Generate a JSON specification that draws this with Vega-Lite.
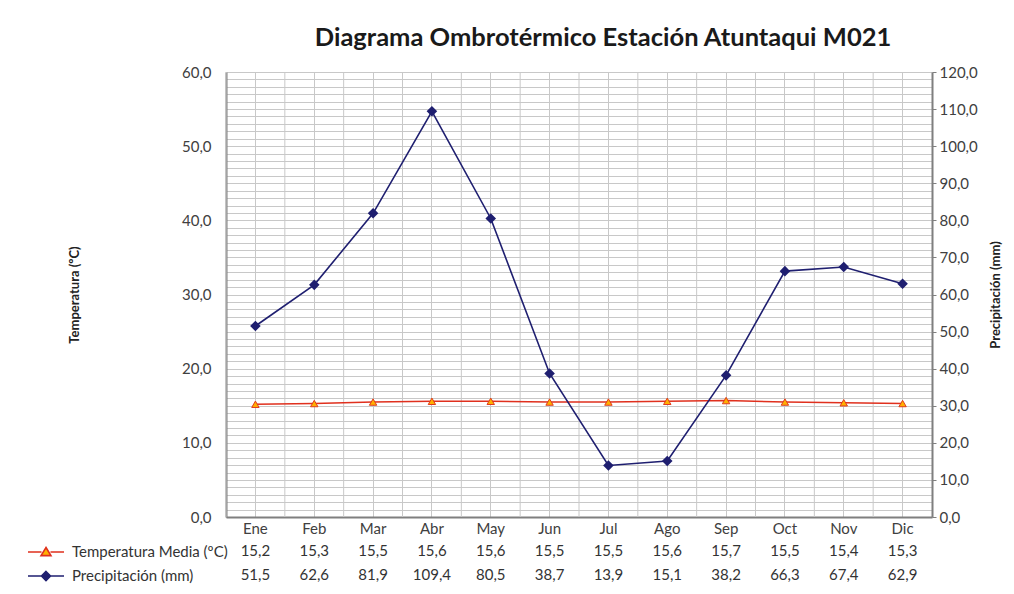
{
  "$schema": "https://vega.github.io/schema/vega-lite/v6.json",
  "width": 706,
  "height": 445,
  "autosize": {"type": "none"},
  "padding": {"left": 226, "top": 72, "right": 82, "bottom": 77},
  "background": "white",
  "config": {
    "locale": {"number": {"decimal": ",", "thousands": ".", "grouping": [3], "currency": ["", " €"]}},
    "font": "Lato",
    "view": {"stroke": null},
    "axis": {"labelFont": "Lato", "titleFont": "Lato", "labelColor": "#404040", "titleColor": "#222222", "labelFontSize": 15}
  },
  "title": {
    "text": "Diagrama Ombrotérmico Estación Atuntaqui M021",
    "fontSize": 25.5,
    "fontWeight": "bold",
    "color": "#1a1a1a",
    "anchor": "middle",
    "dx": 24,
    "offset": 14
  },
  "data": {
    "values": [
      {"mes": "Ene", "temp": 15.2, "prec": 51.5},
      {"mes": "Feb", "temp": 15.3, "prec": 62.6},
      {"mes": "Mar", "temp": 15.5, "prec": 81.9},
      {"mes": "Abr", "temp": 15.6, "prec": 109.4},
      {"mes": "May", "temp": 15.6, "prec": 80.5},
      {"mes": "Jun", "temp": 15.5, "prec": 38.7},
      {"mes": "Jul", "temp": 15.5, "prec": 13.9},
      {"mes": "Ago", "temp": 15.6, "prec": 15.1},
      {"mes": "Sep", "temp": 15.7, "prec": 38.2},
      {"mes": "Oct", "temp": 15.5, "prec": 66.3},
      {"mes": "Nov", "temp": 15.4, "prec": 67.4},
      {"mes": "Dic", "temp": 15.3, "prec": 62.9}
    ]
  },
  "encoding": {
    "x": {
      "field": "mes",
      "type": "ordinal",
      "sort": null,
      "scale": {"type": "band", "paddingInner": 0, "paddingOuter": 0},
      "axis": {
        "title": null,
        "labelAngle": 0,
        "bandPosition": 0.5,
        "grid": true,
        "gridColor": "#C8C8C8",
        "gridWidth": 1,
        "ticks": false,
        "domainColor": "#7F7F7F",
        "domainWidth": 2,
        "labelPadding": 4
      }
    }
  },
  "layer": [
    {
      "layer": [
        {
          "mark": {"type": "rule", "color": "#C8C8C8", "strokeWidth": 1},
          "encoding": {"x": {"field": "mes", "type": "ordinal", "sort": null, "bandPosition": 0}}
        },
        {
          "mark": {"type": "line", "strokeWidth": 1.6},
          "encoding": {
            "y": {
              "field": "temp",
              "type": "quantitative",
              "scale": {"domain": [0, 60], "nice": false},
              "axis": {
                "title": "Temperatura (ºC)",
                "titleFontSize": 13,
                "titleFontWeight": "bold",
                "titlePadding": 100,
                "tickCount": 60,
                "format": ".1f",
                "labelExpr": "datum.value % 10 === 0 ? datum.label : ''",
                "labelOverlap": false,
                "ticks": false,
                "labelPadding": 15,
                "grid": true,
                "gridColor": "#C8C8C8",
                "gridWidth": 1,
                "domainColor": "#7F7F7F",
                "domainWidth": 2
              }
            },
            "stroke": {
              "datum": "Temperatura Media (ºC)",
              "type": "nominal",
              "scale": {"domain": ["Temperatura Media (ºC)", "Precipitación (mm)"], "range": ["#E0301E", "#1F1F70"]},
              "legend": {
                "title": null,
                "orient": "none",
                "legendX": -190,
                "legendY": 470,
                "direction": "vertical",
                "symbolSize": 324,
                "symbolStrokeWidth": 1.6,
                "symbolType": "M-2,0H2",
                "labelFontSize": 15,
                "labelColor": "#333333",
                "labelFont": "Lato",
                "labelOffset": 16,
                "rowPadding": 6,
                "encode": {
                  "symbols": {
                    "update": {
                      "shape": {"signal": "datum.value === 'Precipitación (mm)' ? 'M-2,0H2M0,-0.5L0.5,0L0,0.5L-0.5,0Z' : 'M-2,0H-0.5M0.5,0H2M0,-0.5L0.55,0.4H-0.55Z'"},
                      "fill": {"signal": "datum.value === 'Precipitación (mm)' ? '#1F1F70' : '#FFB000'"},
                      "fillOpacity": {"value": 1}
                    }
                  }
                }
              }
            }
          }
        },
        {
          "mark": {"type": "point", "shape": "triangle-up", "filled": true, "fill": "#FFB000", "stroke": "#E03C1E", "strokeWidth": 1, "size": 55, "opacity": 1},
          "encoding": {"y": {"field": "temp", "type": "quantitative"}}
        },
        {
          "mark": {"type": "text", "dy": 34, "fontSize": 15, "color": "#333333", "baseline": "middle", "font": "Lato"},
          "encoding": {
            "y": {"datum": 0, "type": "quantitative"},
            "text": {"field": "temp", "type": "quantitative", "format": ".1f"}
          }
        },
        {
          "mark": {"type": "text", "dy": 58, "fontSize": 15, "color": "#333333", "baseline": "middle", "font": "Lato"},
          "encoding": {
            "y": {"datum": 0, "type": "quantitative"},
            "text": {"field": "prec", "type": "quantitative", "format": ".1f"}
          }
        }
      ]
    },
    {
      "layer": [
        {
          "mark": {"type": "line", "strokeWidth": 1.6},
          "encoding": {
            "y": {
              "field": "prec",
              "type": "quantitative",
              "scale": {"domain": [0, 120], "nice": false},
              "axis": {
                "orient": "right",
                "title": "Precipitación (mm)",
                "titleFontSize": 13,
                "titleFontWeight": "bold",
                "titleAngle": 270,
                "titleBaseline": "top",
                "titlePadding": 12,
                "tickCount": 12,
                "format": ".1f",
                "grid": false,
                "ticks": true,
                "tickSize": 4,
                "tickColor": "#7F7F7F",
                "labelPadding": 3,
                "domainColor": "#7F7F7F",
                "domainWidth": 2
              }
            },
            "stroke": {"datum": "Precipitación (mm)", "type": "nominal"}
          }
        },
        {
          "mark": {"type": "point", "shape": "diamond", "filled": true, "fill": "#1F1F70", "stroke": "#1F1F70", "size": 60, "opacity": 1},
          "encoding": {"y": {"field": "prec", "type": "quantitative"}}
        }
      ]
    }
  ],
  "resolve": {"scale": {"y": "independent"}}
}
